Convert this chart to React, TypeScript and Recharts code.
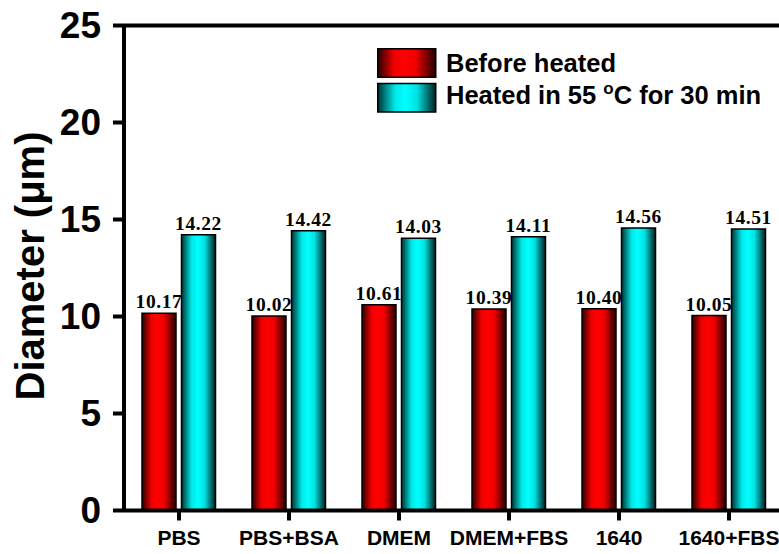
import React from 'react';
import { BarChart, Bar, XAxis, YAxis, ReferenceLine, LabelList, Label } from 'recharts';

const categories = ['PBS', 'PBS+BSA', 'DMEM', 'DMEM+FBS', '1640', '1640+FBS'];
const beforeHeated = [10.17, 10.02, 10.61, 10.39, 10.40, 10.05];
const afterHeated = [14.22, 14.42, 14.03, 14.11, 14.56, 14.51];
const yTicks = [0, 5, 10, 15, 20, 25];
const seriesNames = ['Before heated', 'Heated in 55 °C for 30 min'];

const data = categories.map((c, i) => ({ name: c, before: beforeHeated[i], after: afterHeated[i] }));

const SANS = 'Liberation Sans, Arial, sans-serif';
const SERIF = 'Liberation Serif, Times New Roman, serif';

const Grad = ({ id, kind }: { id: string; kind: 'red' | 'cyan' }) =>
  kind === 'red' ? (
    <linearGradient id={id} x1="0" y1="0" x2="1" y2="0">
      <stop offset="0" stopColor="#2a0000" />
      <stop offset="0.28" stopColor="#f00000" />
      <stop offset="0.45" stopColor="#ff0000" />
      <stop offset="0.65" stopColor="#f00000" />
      <stop offset="1" stopColor="#200000" />
    </linearGradient>
  ) : (
    <linearGradient id={id} x1="0" y1="0" x2="1" y2="0">
      <stop offset="0" stopColor="#003232" />
      <stop offset="0.3" stopColor="#00e8e8" />
      <stop offset="0.48" stopColor="#00ffff" />
      <stop offset="0.68" stopColor="#00e0e0" />
      <stop offset="1" stopColor="#001e1e" />
    </linearGradient>
  );

const YTick = (props: any) => {
  const { y, payload } = props;
  return (
    <text x={101} y={y + 12} textAnchor="end" fontFamily={SANS} fontWeight="bold" fontSize={37} fill="#000">
      {payload.value}
    </text>
  );
};

const XTick = (props: any) => {
  const { x, payload } = props;
  return (
    <text x={x} y={545} textAnchor="middle" fontFamily={SANS} fontWeight="bold" fontSize={21} fill="#000">
      {payload.value}
    </text>
  );
};

const ValueLabel = (props: any) => {
  const { x, y, width, value } = props;
  return (
    <text
      x={x + width / 2}
      y={y - 5}
      textAnchor="middle"
      fontFamily={SERIF}
      fontWeight="bold"
      fontSize={19.5}
      letterSpacing={0.6}
      fill="#000"
    >
      {Number(value).toFixed(2)}
    </text>
  );
};

const LegendBox = () => (
  <svg width={400} height={70} style={{ position: 'absolute', left: 377, top: 48, overflow: 'visible' }}>
    <defs>
      <Grad id="legRed" kind="red" />
      <Grad id="legCyan" kind="cyan" />
    </defs>
    <rect x={0.75} y={0.75} width={58} height={28.5} fill="url(#legRed)" stroke="#000" strokeWidth={1.5} />
    <rect x={0.75} y={35.5} width={58} height={28.5} fill="url(#legCyan)" stroke="#000" strokeWidth={1.5} />
    <text x={69} y={24} fontFamily={SANS} fontWeight="bold" fontSize={25.5} fill="#000">
      {seriesNames[0]}
    </text>
    <text x={69} y={56} fontFamily={SANS} fontWeight="bold" fontSize={25.5} fill="#000">
      Heated in 55 <tspan fontSize={17} dy={-10}>o</tspan>
      <tspan dy={10}>C for 30 min</tspan>
    </text>
  </svg>
);

export default function App() {
  return (
    <div style={{ position: 'absolute', left: 0, top: 0, width: 779, height: 554, overflow: 'hidden', background: '#fff' }}>
      <BarChart
        width={800}
        height={554}
        data={data}
        margin={{ top: 25.5, right: 16, left: 0, bottom: 3.5 }}
        barGap={5.5}
      >
        <defs>
          <Grad id="barRed" kind="red" />
          <Grad id="barCyan" kind="cyan" />
        </defs>
        <XAxis
          dataKey="name"
          height={40}
          axisLine={{ stroke: '#000', strokeWidth: 4 }}
          tickLine={{ stroke: '#000', strokeWidth: 4 }}
          tickSize={10}
          tick={<XTick />}
          interval={0}
        />
        <YAxis
          width={124}
          domain={[0, 25]}
          ticks={yTicks}
          axisLine={{ stroke: '#000', strokeWidth: 4 }}
          tickLine={{ stroke: '#000', strokeWidth: 4 }}
          tickSize={11}
          tick={<YTick />}
        >
          <Label
            content={() => (
              <text
                x={44}
                y={266}
                transform="rotate(-90, 44, 266)"
                textAnchor="middle"
                fontFamily={SANS}
                fontWeight="bold"
                fontSize={40}
                fill="#000"
              >
                Diameter (μm)
              </text>
            )}
          />
        </YAxis>
        <ReferenceLine y={25} stroke="#000" strokeWidth={4} ifOverflow="visible" />
        <Bar dataKey="before" name={seriesNames[0]} barSize={34} fill="url(#barRed)" stroke="#000" strokeWidth={1.5} isAnimationActive={false}>
          <LabelList dataKey="before" content={<ValueLabel />} />
        </Bar>
        <Bar dataKey="after" name={seriesNames[1]} barSize={34} fill="url(#barCyan)" stroke="#000" strokeWidth={1.5} isAnimationActive={false}>
          <LabelList dataKey="after" content={<ValueLabel />} />
        </Bar>
      </BarChart>
      <LegendBox />
    </div>
  );
}
